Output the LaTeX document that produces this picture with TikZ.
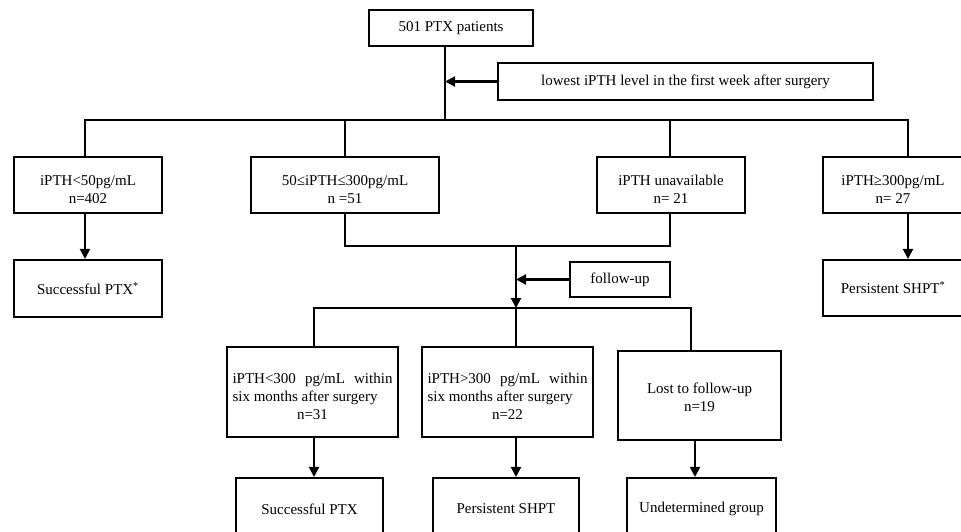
\documentclass[tikz,border=0pt]{standalone}
\usepackage{fontspec}
\setmainfont{Liberation Serif}
\usetikzlibrary{arrows.meta}
\tikzset{
  box/.style={draw, line width=2.1pt, inner sep=0pt, align=center,
    font={\fontsize{15}{18}\selectfont}},
  ln/.style={line width=2.1pt, line join=miter},
  arr/.style={ln, -{Triangle[length=10pt,width=10pt]}},
}
\newcommand{\lowr}{\rule{0pt}{18.5pt}}
\newcommand{\threeline}[3]{\parbox{160pt}{\leavevmode\lowr\makebox[160pt][s]{#1}\par\makebox[160pt][l]{#2}\par\makebox[160pt][c]{#3}}}
\begin{document}
\begin{tikzpicture}[x=1pt,y=-1pt]
\useasboundingbox (0,0) rectangle (961,531);
% nodes
\node[box, minimum width=164pt, minimum height=36pt] (top) at (451,28) {501 PTX patients};
\node[box, minimum width=375pt, minimum height=37pt] (low) at (685.5,81.5) {lowest iPTH level in the first week after surgery};
\node[box, minimum width=148pt, minimum height=56pt] (b1) at (88,185) {\lowr iPTH<50pg/mL\\n=402};
\node[box, minimum width=188pt, minimum height=56pt] (b2) at (345,185) {\lowr 50≤iPTH≤300pg/mL\\n =51};
\node[box, minimum width=148pt, minimum height=56pt] (b3) at (671,185) {\lowr iPTH unavailable\\n= 21};
\node[box, minimum width=140pt, minimum height=56pt] (b4) at (893,185) {\lowr iPTH≥300pg/mL\\n= 27};
\node[box, minimum width=148pt, minimum height=57pt] (s1) at (88,288.5) {Successful PTX\textsuperscript{*}};
\node[box, minimum width=140pt, minimum height=56pt] (s4) at (893,288) {Persistent SHPT\textsuperscript{*}};
\node[box, minimum width=100pt, minimum height=35pt] (fu) at (620,279.5) {follow-up};
\node[box, minimum width=171pt, minimum height=90pt] (A) at (312.5,392) {\threeline{iPTH<300 pg/mL within}{six months after surgery}{n=31}};
\node[box, minimum width=171pt, minimum height=90pt] (B) at (507.5,392) {\threeline{iPTH>300 pg/mL within}{six months after surgery}{n=22}};
\node[box, minimum width=163pt, minimum height=89pt] (C) at (699.5,395.5) {\rule{0pt}{14.5pt}Lost to follow-up\\n=19};
\node[box, minimum width=147pt, minimum height=62pt] (SA) at (309.5,509) {Successful PTX};
\node[box, minimum width=146pt, minimum height=62pt] (SB) at (506,509) {Persistent SHPT};
\node[box, minimum width=149pt, minimum height=62pt] (SC) at (701.5,509) {Undetermined group};
% junction coordinates
\coordinate (j1) at (445,120);
\coordinate (h1) at (85,120);
\coordinate (h2) at (345,120);
\coordinate (h3) at (670,120);
\coordinate (h4) at (908,120);
\coordinate (m2) at (345,246);
\coordinate (m3) at (670,246);
\coordinate (mj) at (516,246);
\coordinate (lj) at (516,308);
\coordinate (la) at (314,308);
\coordinate (lc) at (691,308);
\coordinate (xc) at (695,0);
% connectors
\draw[ln] (top.south -| j1) -- (j1);
\draw[arr] (low.west) -- (low.west -| j1);
\draw[ln] (b1.north -| h1) -- (h1) -- (h4) -- (b4.north -| h4);
\draw[ln] (h2) -- (b2.north -| h2);
\draw[ln] (h3) -- (b3.north -| h3);
\draw[arr] (b1.south -| h1) -- (s1.north -| h1);
\draw[arr] (b4.south -| h4) -- (s4.north -| h4);
\draw[ln] (b2.south -| h2) -- (m2) -- (m3) -- (b3.south -| h3);
\draw[arr] (mj) -- (lj);
\draw[arr] (fu.west) -- (fu.west -| mj);
\draw[ln] (A.north -| la) -- (la) -- (lc) -- (C.north -| lc);
\draw[ln] (lj) -- (B.north -| lj);
\draw[arr] (A.south -| la) -- (SA.north -| la);
\draw[arr] (B.south -| lj) -- (SB.north -| lj);
\draw[arr] (C.south -| xc) -- (SC.north -| xc);
\end{tikzpicture}
\end{document}
